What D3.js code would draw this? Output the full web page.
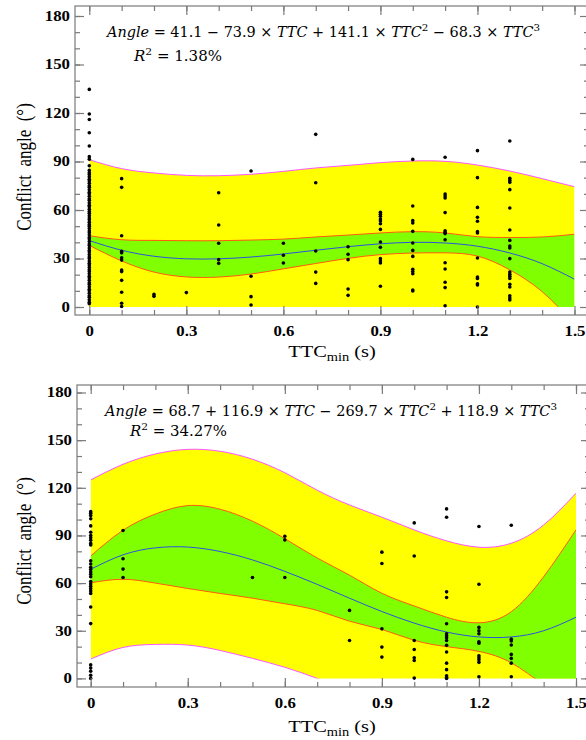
<!DOCTYPE html>
<html>
<head>
<meta charset="utf-8">
<script src="https://cdn.jsdelivr.net/npm/d3@7"></script>
<style>
  body { margin: 0; background: #fff; }
</style>
</head>
<body>
<div id="container"></div>
<script>
var ttcGrid = [0, 0.1, 0.2, 0.3, 0.4, 0.5, 0.6, 0.7, 0.8, 0.9, 1.0, 1.1, 1.2, 1.3, 1.4, 1.5];

// upper panel
var topFit    = [41.1, 35.1, 31.4, 29.8, 29.8, 30.9, 32.8, 35.1, 37.3, 39.1, 40.0, 39.6, 37.6, 33.4, 26.8, 17.2];
var topConfHi = [44.1, 41.6, 41.2, 41.0, 41.0, 41.4, 42.0, 43.3, 44.5, 45.8, 46.6, 45.8, 43.5, 43.0, 43.3, 45.0];
var topConfLo = [38.1, 28.5, 21.6, 18.6, 18.5, 20.4, 23.6, 26.9, 30.1, 32.4, 33.4, 33.5, 31.5, 23.0, 9.5, -10.6];
var topPredHi = [91.1, 85.6, 82.9, 81.4, 81.2, 82.1, 83.9, 86.0, 87.6, 89.3, 90.3, 90.1, 87.8, 84.1, 79.4, 74.4];
var topPredLo = [-8.9, -15.5, -20.1, -21.8, -21.7, -20.3, -18.3, -15.8, -13.0, -11.1, -10.3, -10.8, -12.6, -17.2, -25.8, -40.0];

// lower panel
var botFit    = [68.7, 77.8, 82.2, 82.7, 79.9, 74.6, 67.4, 59.2, 50.5, 42.1, 34.8, 29.2, 26.1, 26.1, 30.0, 38.5];
var botConfHi = [77.1, 93.3, 103.5, 108.8, 106.5, 99.0, 88.0, 75.8, 65.0, 53.6, 45.6, 38.5, 35.0, 42.0, 64.0, 93.5];
var botConfLo = [60.2, 62.4, 60.0, 56.6, 53.5, 50.5, 47.0, 42.8, 36.0, 30.8, 24.0, 20.0, 17.0, 9.8, -4.0, -16.5];
var botPredHi = [125.0, 134.8, 141.3, 144.2, 143.0, 138.0, 129.5, 118.5, 109.2, 101.5, 93.5, 86.6, 82.6, 85.1, 96.6, 116.6];
var botPredLo = [12.2, 19.5, 21.4, 21.0, 17.6, 12.6, 7.0, 0.0, -8.2, -17.2, -23.9, -28.2, -30.5, -32.9, -36.6, -39.6];

// observed points: [TTC, angles at that TTC]
var topDots = [
  [0, [134.6, 119.4, 116, 107.8, 99.6, 93, 91.4, 87.4,
       84.5, 83, 82, 80.5, 79, 78, 76.5, 75, 74, 72.5, 71, 70, 68.5, 67, 66, 64.5, 63, 62, 60.5, 59, 58,
       56.5, 55, 54, 52.5, 51, 50, 48.5, 47, 46, 44.5, 43, 42, 40.5, 39, 38, 36.5, 35, 34, 32.5, 31, 30,
       28.5, 27, 26, 24.5, 23, 22, 20.5, 19, 18, 16.5, 15, 14, 12.5, 11, 10, 8.5, 7, 6, 4.5, 3, 2]],
  [0.1, [79.4, 74, 44.1, 34.4, 33.5, 30.5, 29, 22.9, 21.9, 16.5, 9.1, 2.3, 0.3]],
  [0.2, [7.8, 6.6]],
  [0.3, [8.9]],
  [0.4, [70.7, 50.7, 39.4, 29.3, 27]],
  [0.5, [84.1, 19, 6.4, 1.2]],
  [0.6, [39.4, 32, 27.2]],
  [0.7, [106.8, 76.9, 34.6, 21.6, 14.6]],
  [0.8, [37.3, 32.6, 29.3, 11.1, 7.2]],
  [0.9, [58.6, 57.3, 56.1, 54.4, 53.2, 51.5, 48, 40.2, 36.9, 29.9, 28.5, 27.2, 12.8]],
  [1.0, [91.3, 62.5, 53.4, 52, 46.8, 39.6, 35, 31.3, 23.3, 21.9, 20.6, 10.5, 9.9]],
  [1.1, [92.6, 69.9, 68.7, 67.4, 58.4, 47.2, 46.2, 45.4, 41.6, 27.4, 23.5, 15.3, 12, 0.8]],
  [1.2, [96.7, 80, 61.6, 55.5, 53, 46.6, 45.8, 30.3, 18.6, 17.7, 14.4, 13.6, 0]],
  [1.3, [102.7, 79.6, 78.4, 77.1, 72.6, 61.2, 47.6, 41.2, 37.7, 36.5, 29.9, 21.6, 20.2, 19, 17.7, 14, 12.4, 7, 5.6, 4.3]]
];
var botDots = [
  [0, [105, 104, 102.5, 100.5, 96, 92, 90, 88.5, 87, 85, 84, 74, 72, 70, 68.5, 67, 65.5, 64, 61, 59.5,
       58, 56.5, 55, 53.5, 45, 34.5, 8.5, 6.5, 4.5, 2, 0]],
  [0.1, [93.1, 75.3, 68.8, 63.5]],
  [0.5, [63.5]],
  [0.6, [89.5, 87.2, 63.5]],
  [0.8, [42.8, 23.9]],
  [0.9, [79.5, 72.3, 31.2, 19.7, 13.4]],
  [1.0, [97.9, 77.1, 23.9, 18.2, 13, 11.3, 0.2]],
  [1.1, [106.7, 101.5, 54.5, 50.9, 34.4, 28.1, 26.8, 25.6, 23.9, 20.8, 16.6, 9.6, 5.5, 1.7, 0.6, 0]],
  [1.2, [95.6, 59.3, 32.1, 30, 28.1, 23.1, 22.2, 14.3, 13, 11.7, 10.1, 1]],
  [1.3, [96.4, 24.7, 23.5, 21, 15.1, 12.6, 9.6, 1]]
];

var xTicks = [0, 0.3, 0.6, 0.9, 1.2, 1.5];
var yTicks = [0, 30, 60, 90, 120, 150, 180];
var topEq = ["41.1", "73.9", "141.1", "68.3"];
var topSigns = ["\u2212", "+", "\u2212"];
var topR2 = "1.38%";
var botEq = ["68.7", "116.9", "269.7", "118.9"];
var botSigns = ["+", "\u2212", "+"];
var botR2 = "34.27%";

var svg = d3.select('#container')
    .append('svg')
    .attr('width', 586)
    .attr('height', 740);

var SX = 1.2; // the figure is stretched sideways, text too

function drawPanel(opt) {
    var g = svg.append('g');
    var x = d3.scaleLinear().domain([0, 1.5]).range(opt.xr);
    var y = d3.scaleLinear().domain([0, 180]).range(opt.yr);

    var clipId = 'clip' + opt.id;
    g.append('clipPath').attr('id', clipId)
        .append('rect')
        .attr('x', x(0)).attr('y', y(180))
        .attr('width', x(1.5) - x(0)).attr('height', y(0) - y(180));

    var rows = ttcGrid.map(function (t, i) {
        return { t: t, fit: opt.fit[i], cl: opt.confLo[i], ch: opt.confHi[i], pl: opt.predLo[i], ph: opt.predHi[i] };
    });

    var bands = g.append('g').attr('clip-path', 'url(#' + clipId + ')');
    var area = function (lo, hi) {
        return d3.area().curve(d3.curveNatural)
            .x(function (d) { return x(d.t); })
            .y0(function (d) { return y(d[lo]); })
            .y1(function (d) { return y(d[hi]); });
    };
    var line = function (k) {
        return d3.line().curve(d3.curveNatural)
            .x(function (d) { return x(d.t); })
            .y(function (d) { return y(d[k]); });
    };
    bands.append('path').datum(rows).attr('d', area('pl', 'ph')).attr('fill', '#ffff00');
    bands.append('path').datum(rows).attr('d', area('cl', 'ch')).attr('fill', '#7fff00');
    ['pl', 'ph'].forEach(function (k) {
        bands.append('path').datum(rows).attr('d', line(k))
            .attr('fill', 'none').attr('stroke', '#ff55ff').attr('stroke-width', 1);
    });
    ['cl', 'ch'].forEach(function (k) {
        bands.append('path').datum(rows).attr('d', line(k))
            .attr('fill', 'none').attr('stroke', '#ff5a10').attr('stroke-width', 1);
    });
    bands.append('path').datum(rows).attr('d', line('fit'))
        .attr('fill', 'none').attr('stroke', '#3050e0').attr('stroke-width', 1);

    // dots
    var pts = [];
    opt.dots.forEach(function (grp) {
        grp[1].forEach(function (v) { pts.push([grp[0], v]); });
    });
    g.append('g').selectAll('circle')
        .data(pts)
        .enter()
        .append('circle')
        .attr('cx', function (d) { return x(d[0]); })
        .attr('cy', function (d) { return y(d[1]); })
        .attr('r', 1.8)
        .attr('fill', '#000');

    // frame with inward ticks
    var f = opt.frame; // [left, top, right, bottom]
    var frameColor = '#7a7a7a';
    var styleAxis = function (ax) {
        ax.select('.domain').remove();
        ax.selectAll('line').attr('stroke', frameColor).attr('stroke-width', 1.2);
    };
    var minorX = d3.range(0, 16).map(function (i) { return i / 10; });
    var minorY = d3.range(0, 19).map(function (i) { return i * 10; });

    [['bottom', f[3]], ['top', f[1]]].forEach(function (s) {
        var mk = s[0] === 'bottom' ? d3.axisBottom : d3.axisTop;
        var m = g.append('g').attr('transform', 'translate(0,' + s[1] + ')')
            .call(mk(x).tickValues(minorX).tickSize(-5).tickFormat(''));
        styleAxis(m);
        var M = g.append('g').attr('transform', 'translate(0,' + s[1] + ')')
            .call(mk(x).tickValues(xTicks).tickSize(-9).tickPadding(11)
                .tickFormat(s[0] === 'bottom' ? d3.format('') : ''));
        styleAxis(M);
        if (s[0] === 'bottom') {
            M.selectAll('text')
                .attr('fill', '#000')
                .style('font-family', '"Liberation Serif", "Times New Roman", serif')
                .style('font-weight', 'bold')
                .style('font-size', '14px')
                .attr('transform', 'scale(' + SX + ',1)')
                .attr('x', 0);
        }
    });
    [['left', f[0]], ['right', f[2]]].forEach(function (s) {
        var mk = s[0] === 'left' ? d3.axisLeft : d3.axisRight;
        var m = g.append('g').attr('transform', 'translate(' + s[1] + ',0)')
            .call(mk(y).tickValues(minorY).tickSize(-5).tickFormat(''));
        styleAxis(m);
        var M = g.append('g').attr('transform', 'translate(' + s[1] + ',0)')
            .call(mk(y).tickValues(yTicks).tickSize(-9).tickPadding(5)
                .tickFormat(s[0] === 'left' ? d3.format('') : ''));
        styleAxis(M);
        if (s[0] === 'left') {
            M.selectAll('text')
                .attr('fill', '#000')
                .style('font-family', '"Liberation Serif", "Times New Roman", serif')
                .style('font-weight', 'bold')
                .style('font-size', '14px')
                .attr('x', -5 / SX)
                .attr('transform', 'scale(' + SX + ',1)');
        }
    });
    g.append('rect')
        .attr('x', f[0]).attr('y', f[1])
        .attr('width', f[2] - f[0]).attr('height', f[3] - f[1])
        .attr('fill', 'none').attr('stroke', frameColor).attr('stroke-width', 1.2);

    // axis titles
    var xt = g.append('text')
        .attr('transform', 'translate(' + opt.xTitle[0] + ',' + opt.xTitle[1] + ') scale(' + SX + ',1)')
        .attr('text-anchor', 'middle')
        .style('font-family', '"Liberation Serif", "Times New Roman", serif')
        .style('font-size', '17px');
    xt.append('tspan').text('TTC');
    xt.append('tspan').attr('dy', 4).style('font-size', '12px').text('min');
    xt.append('tspan').attr('dy', -4).text(' (s)');

    g.append('text')
        .attr('transform', 'translate(' + opt.yTitle[0] + ',' + opt.yTitle[1] + ') scale(' + SX + ',1) rotate(-90)')
        .attr('text-anchor', 'middle')
        .style('font-family', '"Liberation Serif", "Times New Roman", serif')
        .style('font-size', '17px')
        .text('Conflict\u00a0\u00a0angle\u00a0\u00a0(\u00b0)');

    // regression equation; superscripts shift the next piece back down
    var eqFont = '"DejaVu Serif", "Liberation Serif", serif';
    var eq = g.append('text')
        .attr('x', opt.eqPos[0]).attr('y', opt.eqPos[1])
        .attr('textLength', opt.eqLen).attr('lengthAdjust', 'spacingAndGlyphs')
        .style('font-family', eqFont)
        .style('font-size', '14px');
    var piece = function (s, italic, dy, small) {
        var t = eq.append('tspan').text(s);
        if (italic) t.style('font-style', 'italic');
        if (dy) t.attr('dy', dy);
        if (small) t.style('font-size', '10px');
    };
    piece('Angle', true);
    piece(' = ' + opt.eq[0] + ' ' + opt.signs[0] + ' ' + opt.eq[1] + ' \u00d7 ');
    piece('TTC', true);
    piece(' ' + opt.signs[1] + ' ' + opt.eq[2] + ' \u00d7 ');
    piece('TTC', true);
    piece('2', false, -6, true);
    piece(' ' + opt.signs[2] + ' ' + opt.eq[3] + ' \u00d7 ', false, 6);
    piece('TTC', true);
    piece('3', false, -6, true);

    var r2 = g.append('text')
        .attr('x', opt.r2Pos[0]).attr('y', opt.r2Pos[1])
        .attr('textLength', opt.r2Len).attr('lengthAdjust', 'spacingAndGlyphs')
        .style('font-family', eqFont)
        .style('font-size', '14px');
    r2.append('tspan').style('font-style', 'italic').text('R');
    r2.append('tspan').attr('dy', -6).style('font-size', '10px').text('2');
    r2.append('tspan').attr('dy', 6).text(' = ' + opt.r2);
}

drawPanel({
    id: 'top', xr: [89.3, 574.5], yr: [307, 16], frame: [75, 6, 589, 315],
    fit: topFit, confLo: topConfLo, confHi: topConfHi, predLo: topPredLo, predHi: topPredHi,
    dots: topDots, xTitle: [332, 357], yTitle: [31, 167],
    eq: topEq, signs: topSigns, eqPos: [107, 37], eqLen: 433, r2: topR2, r2Pos: [134, 61], r2Len: 88
});
drawPanel({
    id: 'bot', xr: [90.7, 576], yr: [678.4, 392.5], frame: [77, 385, 590, 687],
    fit: botFit, confLo: botConfLo, confHi: botConfHi, predLo: botPredLo, predHi: botPredHi,
    dots: botDots, xTitle: [332, 732], yTitle: [31, 541],
    eq: botEq, signs: botSigns, eqPos: [105, 416], eqLen: 452, r2: botR2, r2Pos: [130, 436], r2Len: 97
});
</script>
</body>
</html>
